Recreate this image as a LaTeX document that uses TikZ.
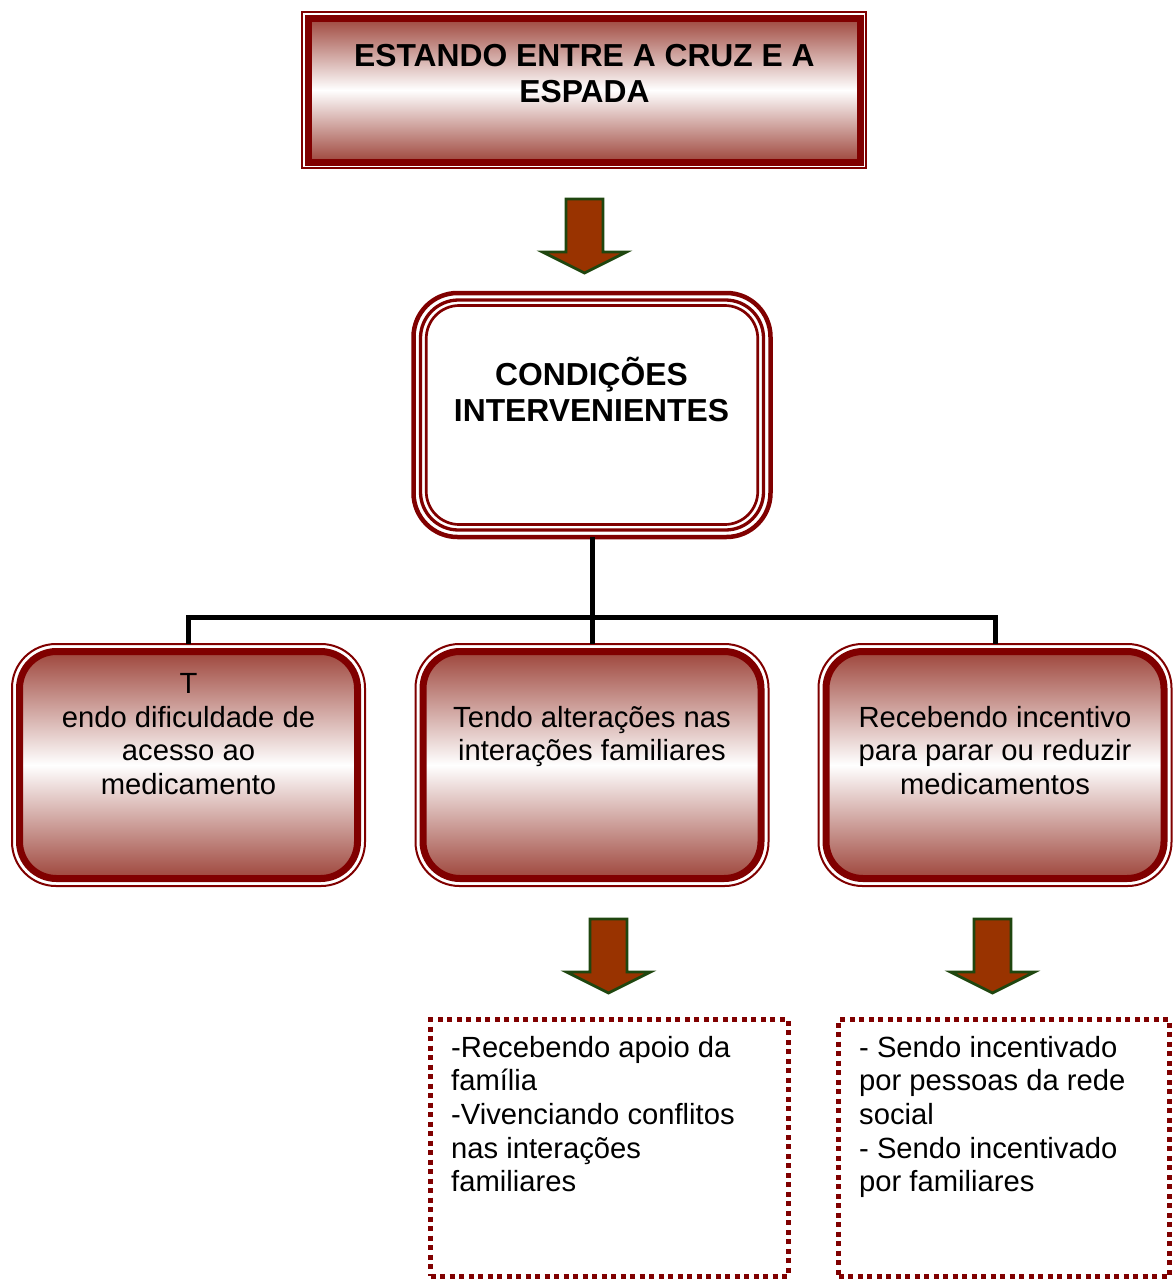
\documentclass[tikz,border=0pt]{standalone}
\usepackage{fontspec}
\setmainfont{Liberation Sans}
\usetikzlibrary{calc}
\definecolor{frame}{RGB}{128,0,0}
\definecolor{grad}{RGB}{158,70,60}
\definecolor{arrowfill}{RGB}{153,51,0}
\definecolor{arrowline}{RGB}{31,70,15}
\begin{document}
\begin{tikzpicture}[x=1pt,y=-1pt,
  boxtext/.style={font=\fontsize{29.2}{33.7}\selectfont, inner sep=0pt, align=center, text=black},
  headtext/.style={font=\bfseries\fontsize{31.8}{36.4}\selectfont, inner sep=0pt, align=center, text=black},
  thinframe/.style={draw=frame, inner sep=0pt, outer sep=0pt},
  gradfill/.style={top color=grad, bottom color=grad, middle color=white},
  lowerouter/.style={thinframe, line width=2pt, rounded corners=44pt, minimum width=353pt, minimum height=242pt},
  lowerinner/.style={thinframe, gradfill, line width=7pt, rounded corners=37pt, minimum width=338pt, minimum height=227pt},
  dotbox/.style={draw=frame, line width=5pt, dash pattern=on 5pt off 4.5pt, inner sep=0pt},
  link/.style={draw=black, line width=5pt},
  blockarrow/.style={fill=arrowfill, draw=arrowline, line width=2.8pt, line join=miter},
  downarrow/.pic={\draw[blockarrow] (-18.5,0) -- (18.5,0) -- (18.5,53) -- (42,53) -- (0,74) -- (-42,53) -- (-18.5,53) -- cycle;}
]
\useasboundingbox (0,0) rectangle (1174,1280);

% connectors
\node[lowerouter] (b1) at (188.5,765) {};
\node[lowerouter] (b2) at (592,765) {};
\node[lowerouter] (b3) at (995,765) {};
\node[thinframe, line width=4.5pt, rounded corners=44pt, minimum width=357pt, minimum height=244pt] (c) at (592,415) {};
\coordinate (j) at (592,617);
\draw[link] (c.south) -- (j);
\draw[link] (j) -| (b1.north);
\draw[link] (j) -| (b3.north);
\draw[link] (j) -- (b2.north);

% top box
\node[thinframe, line width=1.8pt, minimum width=564pt, minimum height=156pt] (topouter) at (584,90) {};
\node[thinframe, gradfill, line width=7pt, minimum width=552pt, minimum height=144pt] (top) at (584,90) {};
\node[headtext, anchor=base] (toptext) at (584.5,102.8) {ESTANDO ENTRE A CRUZ E A\\ESPADA};

\pic at (584.5,199) {downarrow};

% condicoes box
\node[thinframe, line width=3.3pt, rounded corners=38pt, minimum width=343pt, minimum height=230pt] (c2) at (c) {};
\node[thinframe, line width=2.7pt, rounded corners=33pt, minimum width=331.5pt, minimum height=219pt] (c3) at (c) {};
\node[headtext, anchor=base] (ctext) at (591.5,421.8) {CONDIÇÕES\\INTERVENIENTES};

% lower boxes
\node[lowerinner] (b1i) at (b1) {};
\node[lowerinner] (b2i) at (b2) {};
\node[lowerinner] (b3i) at (b3) {};
\node[boxtext, anchor=base] (b1text) at (188.5,794.6) {T\\endo dificuldade de\\acesso ao\\medicamento};
\node[boxtext, anchor=base] (b2text) at (592,760.7) {Tendo alterações nas\\interações familiares};
\node[boxtext, anchor=base] (b3text) at (995,794.4) {Recebendo incentivo\\para parar ou reduzir\\medicamentos};

\pic at (608.5,919) {downarrow};
\pic at (992.5,919) {downarrow};

% dotted boxes
\node[dotbox, minimum width=357.5pt, minimum height=256.5pt] (d1) at (609.25,1147.75) {};
\node[dotbox, minimum width=331pt, minimum height=256.5pt] (d2) at (1004,1147.75) {};
\node[boxtext, align=left, anchor=base west] (d1text) at (451,1191.8) {-Recebendo apoio da\\família\\-Vivenciando conflitos\\nas interações\\familiares};
\node[boxtext, align=left, anchor=base west] (d2text) at (859,1191.8) {- Sendo incentivado\\por pessoas da rede\\social\\- Sendo incentivado\\por familiares};
\end{tikzpicture}
\end{document}
